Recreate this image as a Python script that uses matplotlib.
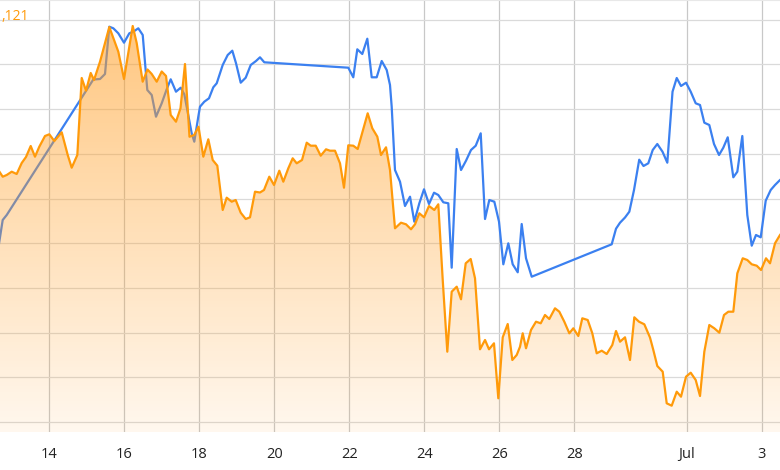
import numpy as np
import pandas as pd
import matplotlib
matplotlib.use("Agg")
import matplotlib.pyplot as plt
import matplotlib.dates as mdates
from matplotlib.patches import Polygon

# day of June (fractional)
orange_days = [12.605, 12.757, 12.864, 12.997, 13.130, 13.264, 13.378, 13.504, 13.618, 13.733,
               13.885, 14.000, 14.133, 14.331, 14.491, 14.597, 14.747, 14.864, 14.979, 15.104,
               15.192, 15.352, 15.600, 15.840, 15.992, 16.224, 16.330, 16.490, 16.619, 16.731,
               16.864, 16.997, 17.112, 17.237, 17.378, 17.498, 17.618, 17.738, 17.864, 17.978,
               18.107, 18.240, 18.357, 18.480, 18.624, 18.730, 18.864, 18.970, 19.104, 19.237,
               19.352, 19.485, 19.618, 19.725, 19.866, 19.992, 20.133, 20.240, 20.373, 20.490,
               20.597, 20.739, 20.864, 20.971, 21.104, 21.237, 21.379, 21.485, 21.618, 21.752,
               21.858, 21.973, 22.106, 22.224, 22.490, 22.613, 22.747, 22.845, 22.979, 23.085,
               23.218, 23.378, 23.512, 23.645, 23.752, 23.867, 23.992, 24.125, 24.267, 24.373,
               24.491, 24.613, 24.730, 24.864, 24.979, 25.104, 25.237, 25.352, 25.485, 25.619,
               25.725, 25.858, 25.973, 26.091, 26.224, 26.347, 26.464, 26.552, 26.624, 26.712,
               26.845, 26.978, 27.104, 27.218, 27.333, 27.485, 27.600, 27.733, 27.867, 27.973,
               28.107, 28.213, 28.357, 28.480, 28.597, 28.731, 28.864, 29.013, 29.112, 29.219,
               29.352, 29.485, 29.600, 29.725, 29.867, 30.018, 30.107, 30.213, 30.357, 30.464,
               30.597, 30.731, 30.845, 30.979, 31.104, 31.237, 31.352, 31.467, 31.600, 31.733,
               31.867, 31.992, 32.107, 32.240, 32.347, 32.491, 32.613, 32.731, 32.864, 32.979,
               33.112, 33.219, 33.352, 33.485, 33.590]
orange_vals = [264, 255.3, 257, 260.3, 258, 269, 275, 286, 275.3, 285.3,
               296, 297.7, 291, 299.7, 277, 264.3, 277, 354, 341.3, 359,
               352, 370.3, 405, 380.3, 353, 406, 389, 350.3, 362.5, 358,
               350.3, 360.5, 356, 317, 310.3, 323.7, 368, 295.3, 297, 305.3,
               275.3, 292.7, 272, 266.3, 222, 234.3, 230.3, 232, 219.3, 213,
               214.7, 240.3, 239.5, 242, 255.3, 247, 261.3, 250.3, 263.7, 273.7,
               268.7, 272, 289.3, 286.3, 286.3, 276.3, 282.7, 281.3, 281.3, 268.7,
               244.3, 286.7, 286.3, 283, 318.7, 303.7, 295.3, 277, 284.7, 262,
               203.7, 209.3, 207.7, 202.7, 207.7, 218.7, 214.7, 226, 222, 227.7,
               152, 80.3, 140.3, 145.3, 132.7, 168.7, 173, 153.7, 82.7, 92,
               82.7, 88.7, 33.7, 94.7, 108, 72, 77, 85.3, 98.7, 83.7,
               102, 110.3, 108.7, 117, 113, 123.7, 120.3, 110.3, 98.7, 103.7,
               96, 113.7, 112, 98.7, 78.7, 81.3, 78, 87, 101, 90.3,
               94.7, 72, 114.7, 110.3, 107.7, 94.5, 82, 66, 60.3, 28.7,
               26.3, 40.3, 35.3, 55.3, 59.3, 52, 36, 80.3, 107, 103.7,
               99.3, 117, 120.3, 120.3, 158.7, 173.7, 172, 167.7, 166.3, 162,
               173.7, 168.7, 188.7, 197, 202]

blue_days = [12.632, 12.757, 12.864, 15.173, 15.352, 15.485, 15.600, 15.707, 15.840, 15.992,
             16.133, 16.240, 16.373, 16.491, 16.613, 16.731, 16.845, 16.997, 17.130, 17.237,
             17.378, 17.504, 17.600, 17.797, 17.866, 17.973, 18.018, 18.133, 18.258, 18.373,
             18.464, 18.624, 18.757, 18.880, 18.979, 19.104, 19.237, 19.371, 19.512, 19.618,
             19.733, 21.973, 22.106, 22.213, 22.346, 22.480, 22.597, 22.730, 22.864, 22.997,
             23.085, 23.130, 23.218, 23.352, 23.485, 23.619, 23.733, 23.867, 23.992, 24.125,
             24.259, 24.373, 24.507, 24.640, 24.730, 24.864, 24.979, 25.112, 25.245, 25.371,
             25.504, 25.619, 25.733, 25.867, 25.992, 26.107, 26.240, 26.357, 26.491, 26.597,
             26.712, 26.864, 28.997, 29.112, 29.219, 29.352, 29.467, 29.592, 29.731, 29.845,
             29.973, 30.091, 30.213, 30.352, 30.480, 30.619, 30.731, 30.845, 30.979, 31.104,
             31.237, 31.352, 31.467, 31.600, 31.725, 31.859, 31.973, 32.091, 32.240, 32.347,
             32.480, 32.613, 32.731, 32.845, 32.971, 33.104, 33.237, 33.352, 33.485, 33.620]
blue_vals = [182, 212, 217, 352.5, 353, 358, 405.3, 403.7, 398.7, 389.3,
             398.7, 400.3, 403.7, 397, 342, 337, 315.3, 328.7, 342.7, 352.7,
             340.3, 344.3, 337.7, 298.7, 290.3, 315.3, 325.3, 330.3, 333.7, 344.7,
             348.7, 367, 377, 381.3, 368.7, 349.3, 354.3, 367, 371, 374.7,
             369.7, 364.3, 354.7, 382.7, 378, 393.3, 354.7, 354.7, 371, 362,
             347, 325.3, 262, 250.3, 226, 235.3, 210.3, 228.7, 242.7, 228,
             239.3, 237, 229.7, 228.7, 164.3, 283, 262, 271.3, 282, 286.3,
             298.7, 213, 232, 230.3, 210.3, 167.7, 188.7, 167.7, 159.7, 208,
             173.7, 155.3, 187.7, 203.3, 209.3, 214.5, 220.3, 242, 272.3, 266,
             268.7, 282, 288, 280.3, 269.3, 340.3, 354, 346, 349.3, 340.3,
             328.7, 327, 309.3, 307, 288, 277, 284.3, 294.7, 254.7, 260.3,
             296, 217, 186.3, 197, 194.7, 231.3, 242, 247, 252, 256]

tick_days = [14, 16, 18, 20, 22, 24, 26, 28, 31, 33]
tick_labels = ["14", "16", "18", "20", "22", "24", "26", "28", "Jul", "3"]

base = pd.Timestamp("2023-06-01")


def to_num(days):
    ts = base + pd.to_timedelta(np.array(days) - 1, unit="D")
    return mdates.date2num(ts.to_pydatetime())


ox = to_num(orange_days)
bx = to_num(blue_days)
ticks = to_num(tick_days)
x0, x1 = to_num([12.685, 33.485])
y0, y1 = 0, 432

plt.rcParams["font.family"] = ["Open Sans", "DejaVu Sans"]
fig = plt.figure(figsize=(7.8, 4.7), dpi=100)
ax = fig.add_axes([0, 38 / 470, 1, 432 / 470])

# blue line sits under the orange fill
ax.plot(bx, blue_vals, color="#3b80f0", lw=1.6, zorder=2, solid_joinstyle="round")

# vertical gradient fill under the orange line
n = 256
grad = np.zeros((n, 1, 4))
grad[:, 0, 0] = 1.0
grad[:, 0, 1] = 0.63
grad[:, 0, 2] = 0.16
grad[:, 0, 3] = np.linspace(0.62, 0.08, n)
im = ax.imshow(grad, extent=[x0 - 1, x1 + 1, y0, y1], aspect="auto",
               origin="upper", zorder=3, interpolation="bilinear")
verts = np.vstack([[ox[0], y0], np.column_stack([ox, orange_vals]), [ox[-1], y0]])
poly = Polygon(verts, closed=True, facecolor="none", edgecolor="none",
               transform=ax.transData)
ax.add_patch(poly)
im.set_clip_path(poly)

ax.plot(ox, orange_vals, color="#ff9a0a", lw=1.6, zorder=4, solid_joinstyle="round")

ax.set_xlim(x0, x1)
ax.set_ylim(y0, y1)
ax.set_xticks(ticks)
ax.set_xticklabels(tick_labels)
ax.set_yticks(np.arange(10, 432, 44.7))
ax.tick_params(axis="y", left=False, labelleft=False)
ax.tick_params(axis="x", length=0, pad=11, labelsize=10.5, labelcolor="#222222")
ax.grid(True, axis="x", color="#c8c8c8", lw=0.9)
ax.grid(True, axis="y", color="#dadada", lw=0.9)
ax.set_axisbelow(True)
for side in ["left", "right", "bottom"]:
    ax.spines[side].set_visible(False)
ax.spines["top"].set_color("#e8e8e8")

fig.text(0.002, 1 - 17 / 470, ",121", color="#ff9a0a", fontsize=10,
         ha="left", va="center")

fig.savefig("out.png", dpi=100)
